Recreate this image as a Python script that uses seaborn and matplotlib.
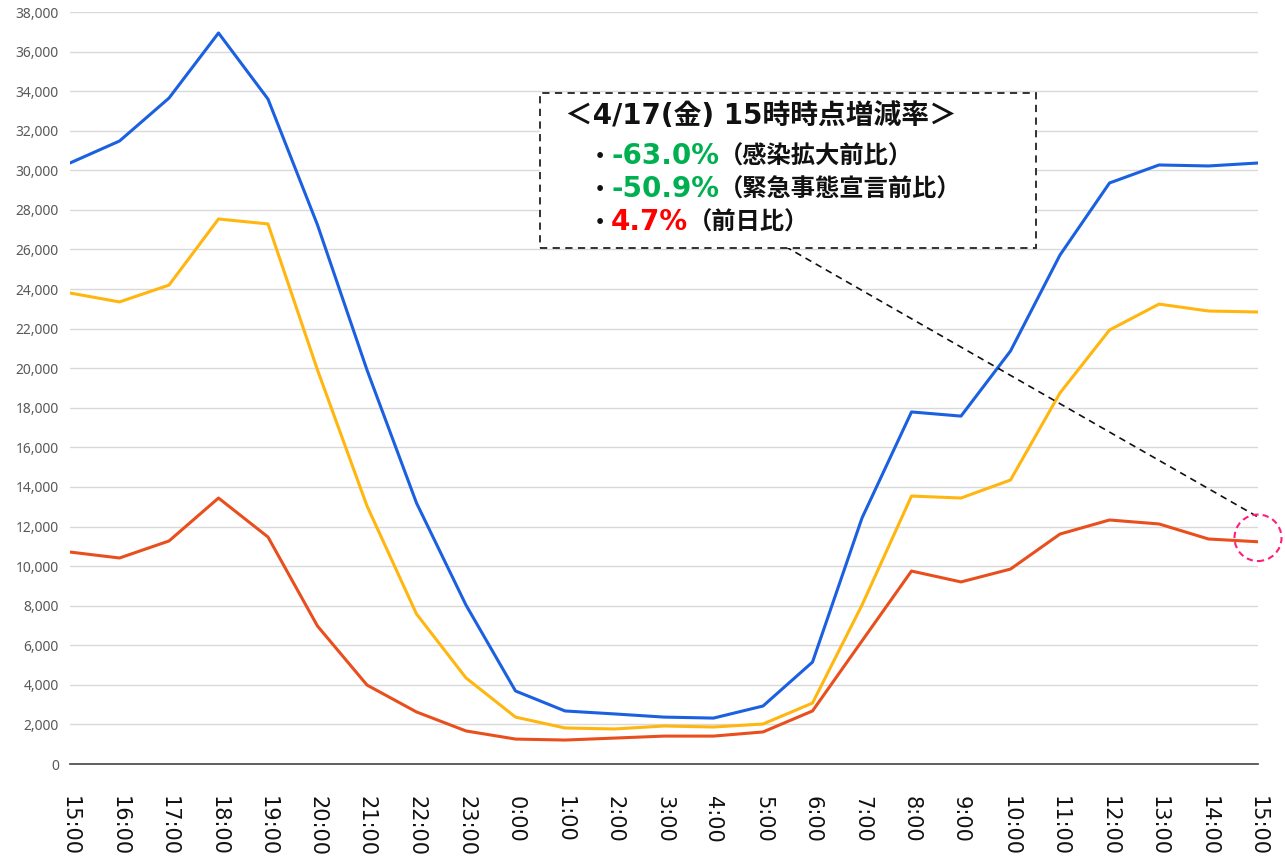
import matplotlib
matplotlib.use("Agg")
import matplotlib.pyplot as plt
import matplotlib.transforms as mtransforms
from matplotlib.patches import Rectangle, Ellipse
import seaborn as sns
import pandas as pd

hours = ["15:00", "16:00", "17:00", "18:00", "19:00", "20:00", "21:00", "22:00", "23:00",
         "0:00", "1:00", "2:00", "3:00", "4:00", "5:00", "6:00", "7:00", "8:00", "9:00",
         "10:00", "11:00", "12:00", "13:00", "14:00", "15:00"]

blue_before_infection = [30370, 31480, 33650, 36940, 33600, 27240, 19910, 13190, 8030,
                         3690, 2680, 2530, 2370, 2320, 2930, 5150, 12430, 17790, 17580,
                         20870, 25720, 29360, 30270, 30220, 30370]
yellow_before_emergency = [23800, 23350, 24200, 27540, 27290, 19910, 13040, 7580, 4350,
                           2370, 1820, 1770, 1920, 1870, 2020, 3080, 8030, 13540, 13440,
                           14350, 18750, 21930, 23240, 22890, 22840]
orange_today = [10710, 10410, 11270, 13440, 11470, 6970, 3990, 2630, 1670,
                1260, 1210, 1310, 1410, 1410, 1620, 2680, 6220, 9750, 9200,
                9850, 11620, 12330, 12130, 11370, 11230]

series_names = ["感染拡大前", "緊急事態宣言前", "4/17"]
series_colors = ["#1a60e0", "#ffb60f", "#e84f1c"]

box_title = "＜4/17(金) 15時時点増減率＞"
box_values = ["-63.0%", "-50.9%", "4.7%"]
box_value_colors = ["#00b050", "#00b050", "#ff0000"]
box_labels = ["（感染拡大前比）", "（緊急事態宣言前比）", "（前日比）"]

sns.set_style("white")
plt.rcParams["font.family"] = ["DejaVu Sans"]

fig = plt.figure(figsize=(12.85, 8.59), dpi=100)
ax = fig.add_axes([70 / 1285, 95 / 859, 1188 / 1285, 752 / 859])

x_idx = list(range(len(hours)))
df = pd.concat([
    pd.DataFrame({"x": x_idx, "y": vals, "series": name})
    for name, vals in zip(series_names, [blue_before_infection, yellow_before_emergency, orange_today])
])
sns.lineplot(data=df, x="x", y="y", hue="series", palette=dict(zip(series_names, series_colors)),
             linewidth=2.2, legend=False, ax=ax, zorder=3)

ax.set_xlim(0, len(hours) - 1)
ax.set_ylim(0, 38000)
ax.set_yticks(range(0, 38001, 2000))
ax.set_yticklabels([f"{v:,}" for v in range(0, 38001, 2000)], fontsize=10, color="#595959",
                   family=["Noto Sans", "DejaVu Sans"])
ax.set_xticks(x_idx)
ax.set_xticklabels(hours, rotation=-90, fontsize=15, color="#111111", va="top", ha="center")
ax.set_xlabel("")
ax.set_ylabel("")
ax.grid(axis="y", color="#d9d9d9", linewidth=1)
ax.grid(axis="x", visible=False)
ax.set_axisbelow(True)
for s in ["left", "right", "top"]:
    ax.spines[s].set_visible(False)
ax.spines["bottom"].set_color("#444444")
ax.spines["bottom"].set_linewidth(1.2)
ax.tick_params(axis="x", direction="in", length=6, width=1, color="#444444", pad=23)
ax.tick_params(axis="y", length=0, pad=8)

# annotation box
x0, x1 = 9.49, 19.52
y0, y1 = 26070, 33900
ax.add_patch(Rectangle((x0, y0), x1 - x0, y1 - y0, facecolor="white", edgecolor="#222222",
                       linestyle=(0, (4, 3)), linewidth=1.3, zorder=5))

mixed = ["DejaVu Sans", "Noto Sans CJK JP"]
cjk = ["Noto Sans CJK JP", "DejaVu Sans"]
ax.text(10.0, 32760, box_title, fontsize=20, fontweight="bold", family=mixed, va="center",
        ha="left", color="#111111", zorder=6)

fig.canvas.draw()
renderer = fig.canvas.get_renderer()
line_ys = [30925, 29260, 27590]
for yv, val, vcol, lab in zip(line_ys, box_values, box_value_colors, box_labels):
    parts = [("・", dict(fontsize=16, color="#111111", family=cjk)),
             (val, dict(fontsize=20, color=vcol, family=mixed)),
             (lab, dict(fontsize=17.5, color="#111111", family=cjk))]
    t = ax.transData
    yy = yv - 600
    for s, kw in parts:
        txt = ax.text(10.48, yy, s, transform=t, va="baseline", ha="left",
                      fontweight="bold", zorder=6, **kw)
        txt.draw(renderer)
        ex = txt.get_window_extent(renderer)
        t = mtransforms.offset_copy(txt.get_transform(), x=ex.width, units="dots", fig=fig)

# connector & circle
last_x = len(hours) - 1
last_y = orange_today[-1]
ax.plot([14.45, last_x], [26150, last_y + 1250], color="#111111", linestyle=(0, (4, 3)),
        linewidth=1.2, zorder=4, clip_on=False)
ax.add_patch(Ellipse((last_x, last_y + 200), 0.95, 2350, fill=False, edgecolor="#ff1f7a",
                     linestyle=(0, (3, 2)), linewidth=1.5, zorder=6, clip_on=False))

fig.savefig("out.png", dpi=100)
